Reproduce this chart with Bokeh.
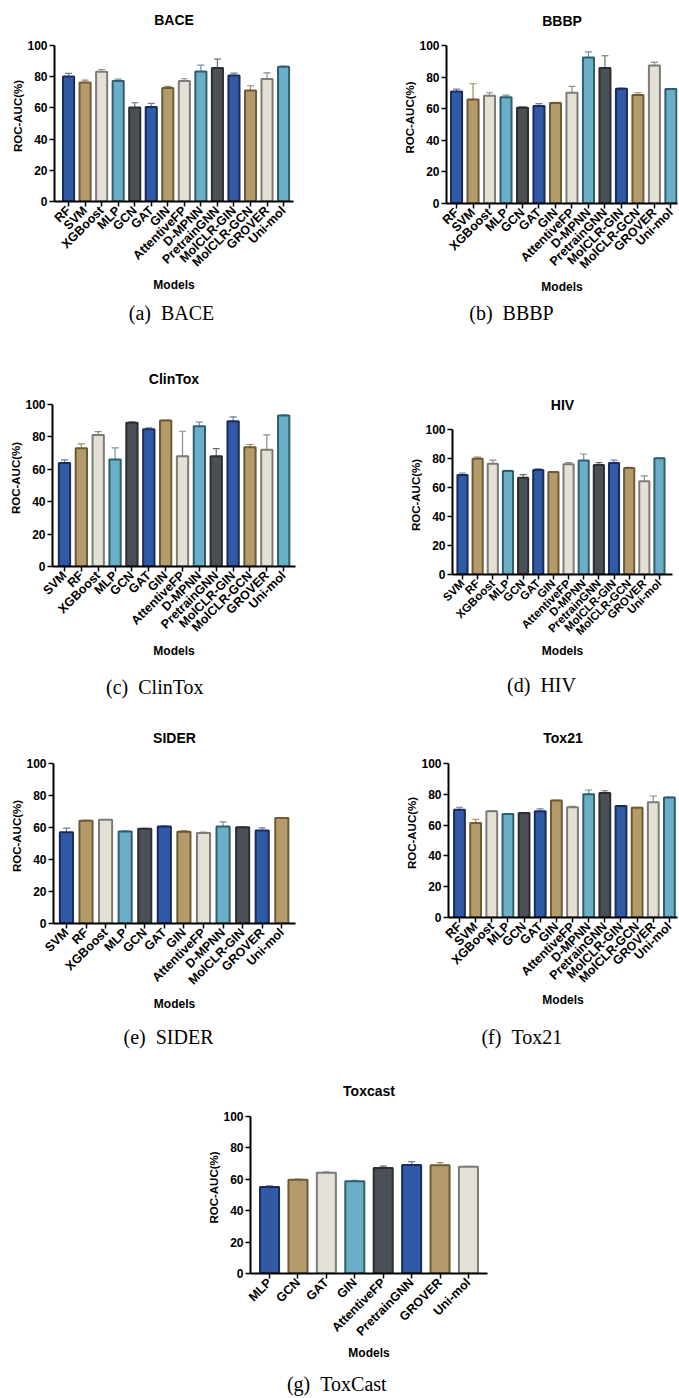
import numpy as np
from math import pi
from bokeh.plotting import figure
from bokeh.models import ColumnDataSource, Range1d, FixedTicker, Title, LinearAxis
from bokeh.layouts import column, row
from bokeh.embed import file_html
from bokeh.resources import INLINE

# ---------------- data ----------------
bace_models = ["RF", "SVM", "XGBoost", "MLP", "GCN", "GAT", "GIN", "AttentiveFP",
               "D-MPNN", "PretrainGNN", "MolCLR-GIN", "MolCLR-GCN", "GROVER", "Uni-mol"]
bace_auc = [80.2, 76.3, 83.2, 77.2, 60.3, 60.6, 72.7, 77.2, 83.4, 85.5, 80.8, 71.2, 78.5, 86.4]
bace_err = [1.9, 1.5, 1.4, 1.3, 3.0, 2.3, 1.1, 1.5, 4.0, 5.8, 1.5, 3.0, 4.0, 0.4]

bbbp_models = ["RF", "SVM", "XGBoost", "MLP", "GCN", "GAT", "GIN", "AttentiveFP",
               "D-MPNN", "PretrainGNN", "MolCLR-GIN", "MolCLR-GCN", "GROVER", "Uni-mol"]
bbbp_auc = [70.9, 65.9, 68.2, 67.2, 60.6, 61.7, 63.6, 70.1, 92.4, 85.7, 72.6, 68.6, 87.4, 72.4]
bbbp_err = [1.5, 9.9, 1.9, 1.4, 0.5, 1.5, 0.4, 4.0, 3.6, 7.8, 0.5, 1.5, 1.9, 0.2]

clintox_models = ["SVM", "RF", "XGBoost", "MLP", "GCN", "GAT", "GIN", "AttentiveFP",
                  "D-MPNN", "PretrainGNN", "MolCLR-GIN", "MolCLR-GCN", "GROVER", "Uni-mol"]
clintox_auc = [63.9, 73.0, 81.2, 66.0, 88.7, 84.7, 90.1, 68.0, 86.6, 68.0, 89.7, 73.6, 72.0, 93.2]
clintox_err = [1.9, 2.7, 2.1, 7.2, 0.6, 0.9, 0.2, 15.5, 2.5, 4.8, 2.7, 1.7, 9.2, 0.4]

hiv_models = ["SVM", "RF", "XGBoost", "MLP", "GCN", "GAT", "GIN", "AttentiveFP",
              "D-MPNN", "PretrainGNN", "MolCLR-GIN", "MolCLR-GCN", "GROVER", "Uni-mol"]
hiv_auc = [68.6, 79.9, 76.4, 71.4, 66.8, 72.1, 70.7, 76.0, 78.7, 75.5, 76.9, 73.5, 64.3, 80.1]
hiv_err = [1.4, 1.1, 2.5, 0.5, 2.1, 0.7, 0.2, 1.1, 4.4, 1.6, 2.0, 0.4, 3.7, 0.2]

sider_models = ["SVM", "RF", "XGBoost", "MLP", "GCN", "GAT", "GIN", "AttentiveFP",
                "D-MPNN", "MolCLR-GIN", "GROVER", "Uni-mol"]
sider_auc = [57.1, 64.2, 64.8, 57.5, 59.2, 60.6, 57.3, 56.5, 60.6, 60.2, 58.1, 66.0]
sider_err = [2.5, 0.4, 0.2, 0.4, 0.2, 0.4, 0.8, 0.6, 2.9, 0.2, 1.7, 0.2]

tox21_models = ["RF", "SVM", "XGBoost", "MLP", "GCN", "GAT", "GIN", "AttentiveFP",
                "D-MPNN", "PretrainGNN", "MolCLR-GIN", "MolCLR-GCN", "GROVER", "Uni-mol"]
tox21_auc = [70.0, 61.4, 69.0, 67.2, 67.9, 69.0, 75.9, 71.6, 80.0, 80.8, 72.4, 71.3, 74.8, 78.0]
tox21_err = [1.6, 2.4, 0.4, 0.3, 0.2, 1.5, 0.4, 0.6, 2.8, 1.5, 0.2, 0.3, 4.1, 0.2]

toxcast_models = ["MLP", "GCN", "GAT", "GIN", "AttentiveFP", "PretrainGNN", "GROVER", "Uni-mol"]
toxcast_auc = [55.1, 59.7, 64.2, 58.7, 67.2, 69.1, 68.9, 68.0]
toxcast_err = [0.8, 0.5, 0.6, 0.6, 1.2, 2.1, 1.7, 0.2]

y_ticks = [0, 20, 40, 60, 80, 100]

# ---------------- styles ----------------
FILLS = ["#3059A6", "#B49B6C", "#E4E0D6", "#6AAEC7", "#4B5056"]
LINES = ["#1B2B5A", "#6E5A35", "#7C7B77", "#2F5E6E", "#2B2E33"]
ERRS = ["#6F7E9E", "#9C8963", "#8E8D88", "#6E93A0", "#6A6E73"]
SANS = "Liberation Sans"
SERIF = "Liberation Serif"
CAP_SIZE = 20

# approximate Times/Liberation Serif advance widths (em) to centre captions
_W = {"(": .333, ")": .333, "\u2002": .5, " ": .25, "a": .444, "b": .5, "c": .444,
      "d": .5, "e": .444, "f": .333, "g": .5, "B": .667, "A": .722, "C": .667,
      "E": .611, "P": .556, "l": .278, "i": .278, "n": .5, "T": .611, "o": .5,
      "x": .5, "H": .722, "I": .333, "V": .722, "S": .556, "D": .722, "R": .667,
      "2": .5, "1": .5, "s": .389, "t": .278}


def text_w(s, size):
    return sum(_W.get(ch, .5) for ch in s) * size


def make_panel(title, caption, models, auc, err, W, H, L, R, T100, B, title_c,
               x0, x1, cx, gap, lab_standoff, xfs="12.5px"):
    n = len(models)
    idx = list(range(n))
    auc = np.array(auc, dtype=float)
    err = np.array(err, dtype=float)
    src = ColumnDataSource(dict(
        x=idx, top=auc, upper=auc + err,
        fill=[FILLS[i % 5] for i in idx],
        line=[LINES[i % 5] for i in idx],
        ecol=[ERRS[i % 5] for i in idx],
        name=models,
    ))
    FT = title_c + 11                       # frame top (pixel) leaving room for title
    ymax = 100 + (T100 - FT) * 100.0 / (B - T100)
    p = figure(width=W, height=H, x_range=Range1d(x0, x1), y_range=Range1d(0, ymax),
               toolbar_location=None, output_backend="svg", title=title,
               min_border_left=L, min_border_right=W - R,
               min_border_top=FT, min_border_bottom=H - B)
    p.segment(x0="x", y0="top", x1="x", y1="upper", source=src,
              line_color="ecol", line_width=1.2)
    p.scatter(x="x", y="upper", marker="dash", size=7, source=src,
              line_color="ecol", line_width=1.2)
    p.vbar(x="x", top="top", bottom=0, width=0.67, source=src,
           fill_color="fill", line_color="line", line_width=2)

    p.title.align = "center"
    p.title.text_font = SANS
    p.title.text_font_style = "bold"
    p.title.text_font_size = "14px"
    p.title.text_color = "black"
    p.title.standoff = 6

    p.outline_line_color = None
    p.xgrid.grid_line_color = None
    p.ygrid.grid_line_color = None
    p.background_fill_color = "white"
    p.border_fill_color = "white"

    for ax in (p.xaxis[0], p.yaxis[0]):
        ax.axis_line_color = "black"
        ax.axis_line_width = 2
        ax.major_tick_line_color = "black"
        ax.major_tick_line_width = 1.5
        ax.major_tick_out = 5
        ax.major_tick_in = 0
        ax.minor_tick_line_color = None
        ax.major_label_text_font = SANS
        ax.major_label_text_font_style = "bold"
        ax.major_label_text_color = "black"
        ax.axis_label_text_font = SANS
        ax.axis_label_text_font_style = "bold"
        ax.axis_label_text_color = "black"

    p.xaxis.ticker = FixedTicker(ticks=idx)
    p.xaxis.major_label_overrides = {i: m for i, m in enumerate(models)}
    p.xaxis.major_label_orientation = pi / 4
    p.xaxis.major_label_text_font_size = xfs
    p.xaxis.major_label_standoff = 2
    p.xaxis.axis_label = "Models"
    p.xaxis.axis_label_text_font_size = "12px"
    p.xaxis.axis_label_standoff = lab_standoff

    p.yaxis.ticker = FixedTicker(ticks=y_ticks)
    p.yaxis.bounds = (0, 100)
    p.yaxis.major_label_text_font_size = "12px"
    p.yaxis.major_label_standoff = 2
    p.yaxis.axis_label = "ROC-AUC(%)"
    p.yaxis.axis_label_text_font_size = "11.5px"
    p.yaxis.axis_label_standoff = 0

    # invisible spacer (an unlabeled, undrawn tick) between the axis title and the caption
    spacer = LinearAxis(ticker=FixedTicker(ticks=[idx[0]]),
                        major_label_overrides={idx[0]: ""},
                        axis_line_color=None, major_tick_line_color=None,
                        minor_tick_line_color=None, major_tick_out=gap,
                        major_tick_in=0, major_label_standoff=0,
                        major_label_text_font_size="1px")
    p.add_layout(spacer, "below")

    off = cx - text_w(caption, CAP_SIZE) / 2 - L
    cap = Title(text=caption, align="left", offset=off, standoff=0,
                text_font=SERIF, text_font_style="normal",
                text_font_size=f"{CAP_SIZE}px", text_color="black")
    p.add_layout(cap, "below")
    return p


p1 = make_panel("BACE", "(a)\u2002BACE", bace_models, bace_auc, bace_err,
                340, 345, 54, 293, 45, 201, 19, -0.85, 13.6, 171, 4, 1)
p2 = make_panel("BBBP", "(b)\u2002BBBP", bbbp_models, bbbp_auc, bbbp_err,
                339, 345, 106, 337, 45, 203, 20, -0.61, 13.4, 171, 2, 1)
p3 = make_panel("ClinTox", "(c)\u2002ClinTox", clintox_models, clintox_auc, clintox_err,
                340, 360, 52, 295, 59, 221, 33, -0.71, 13.7, 155, 12, 2)
p4 = make_panel("HIV", "(d)\u2002HIV", hiv_models, hiv_auc, hiv_err,
                339, 360, 112, 332, 84, 229, 59, -0.66, 13.86, 201, 10, 0, "11.5px")
p5 = make_panel("SIDER", "(e)\u2002SIDER", sider_models, sider_auc, sider_err,
                340, 350, 53, 295, 58, 218, 32, -0.66, 11.7, 168, 9, 2)
p6 = make_panel("Tox21", "(f)\u2002Tox21", tox21_models, tox21_auc, tox21_err,
                339, 350, 108, 337, 58, 212, 32, -0.68, 13.5, 182, 13, 0)
p7 = make_panel("Toxcast", "(g)\u2002ToxCast", toxcast_models, toxcast_auc, toxcast_err,
                679, 343, 250, 487, 61, 218, 35, -0.67, 7.67, 337, 7, 0)

# each figure wrapped on its own so that a row does not line up the frames
layout = column(row(column(p1), column(p2)),
                row(column(p3), column(p4)),
                row(column(p5), column(p6)),
                column(p7))

open("out.html", "w").write(file_html(layout, INLINE))
